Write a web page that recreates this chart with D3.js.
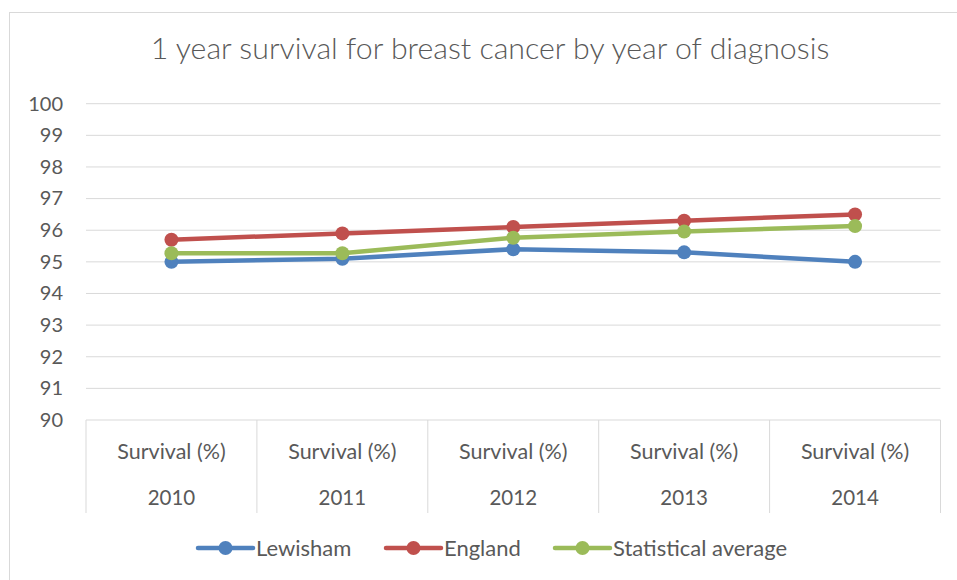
<!DOCTYPE html>
<html>
<head>
<meta charset="utf-8">
<script src="https://cdn.jsdelivr.net/npm/d3@7"></script>
<style>
  body { margin: 0; background: #fff; }
  text { font-family: Lato, 'Open Sans', sans-serif; fill: #595959; }
</style>
</head>
<body>
<div id="chart"></div>
<script>
// data
const years = ['2010', '2011', '2012', '2013', '2014']
const catLabel = 'Survival (%)'
const lewisham = [95.0, 95.1, 95.4, 95.3, 95.0]
const england = [95.7, 95.9, 96.1, 96.3, 96.5]
const statAvg = [95.27, 95.27, 95.76, 95.96, 96.13]
const yTicks = [90, 91, 92, 93, 94, 95, 96, 97, 98, 99, 100]

const series = [
  { name: 'Lewisham', values: lewisham, color: '#4F81BD' },
  { name: 'England', values: england, color: '#C0504D' },
  { name: 'Statistical average', values: statAvg, color: '#9BBB59' }
]

const W = 957, H = 580
const plotLeft = 86, plotRight = 940.5, plotTop = 103.7, plotBottom = 420

let svg = d3.select('#chart').append('svg').attr('width', W).attr('height', H)

// chart border
svg.append('rect')
  .attr('x', 9.5).attr('y', 12.5)
  .attr('width', 1000).attr('height', 1000)
  .attr('fill', 'none').attr('stroke', '#d9d9d9')

svg.append('text').text('1 year survival for breast cancer by year of diagnosis')
  .attr('x', 490).attr('y', 58.5)
  .attr('text-anchor', 'middle')
  .attr('font-size', '30.3px')
  .attr('font-weight', 300)

let x = d3.scaleBand().domain(years).range([plotLeft, plotRight])
let y = d3.scaleLinear().domain([90, 100]).range([plotBottom, plotTop])

// gridlines
svg.append('g').selectAll('line').data(yTicks.filter(d => d > 90)).join('line')
  .attr('x1', plotLeft).attr('x2', plotRight)
  .attr('y1', d => y(d)).attr('y2', d => y(d))
  .attr('stroke', '#d9d9d9').attr('stroke-width', 1)

// y axis labels
let yAxis = svg.append('g')
  .attr('transform', `translate(${plotLeft},0)`)
  .call(d3.axisLeft(y).tickValues(yTicks).tickSize(0).tickPadding(23))
yAxis.select('.domain').remove()
yAxis.selectAll('text').attr('font-size', '20px').attr('fill', '#595959')
  .style('font-family', 'Lato, sans-serif')

// x axis: baseline + category dividers
svg.append('line')
  .attr('x1', plotLeft).attr('x2', plotRight)
  .attr('y1', plotBottom).attr('y2', plotBottom)
  .attr('stroke', '#d9d9d9')

let bounds = years.map(d => x(d)).concat([plotRight])
svg.append('g').selectAll('line').data(bounds).join('line')
  .attr('x1', d => d).attr('x2', d => d)
  .attr('y1', plotBottom).attr('y2', 513)
  .attr('stroke', '#d9d9d9')

let cats = svg.append('g').selectAll('g').data(years).join('g')
  .attr('transform', d => `translate(${x(d) + x.bandwidth() / 2},0)`)
cats.append('text').text(catLabel)
  .attr('y', 459).attr('text-anchor', 'middle').attr('font-size', '21.5px')
cats.append('text').text(d => d)
  .attr('y', 505).attr('text-anchor', 'middle').attr('font-size', '20.5px')

// lines
let line = d3.line()
  .x((d, i) => x(years[i]) + x.bandwidth() / 2)
  .y(d => y(d))

series.forEach(s => {
  let g = svg.append('g')
  g.append('path').datum(s.values)
    .attr('d', line)
    .attr('fill', 'none')
    .attr('stroke', s.color)
    .attr('stroke-width', 4.5)
    .attr('stroke-linejoin', 'round')
  g.selectAll('circle').data(s.values).join('circle')
    .attr('cx', (d, i) => x(years[i]) + x.bandwidth() / 2)
    .attr('cy', d => y(d))
    .attr('r', 7)
    .attr('fill', s.color)
})

// legend
let legendX = [198, 386, 555]
let leg = svg.append('g').selectAll('g').data(series).join('g')
  .attr('transform', (d, i) => `translate(${legendX[i]},548)`)
leg.append('line')
  .attr('x1', 0).attr('x2', 55)
  .attr('stroke', d => d.color).attr('stroke-width', 4.5).attr('stroke-linecap', 'round')
leg.append('circle').attr('cx', 27.5).attr('r', 7).attr('fill', d => d.color)
leg.append('text').text(d => d.name)
  .attr('x', 58).attr('y', 7.5).attr('font-size', '22px')
</script>
</body>
</html>
